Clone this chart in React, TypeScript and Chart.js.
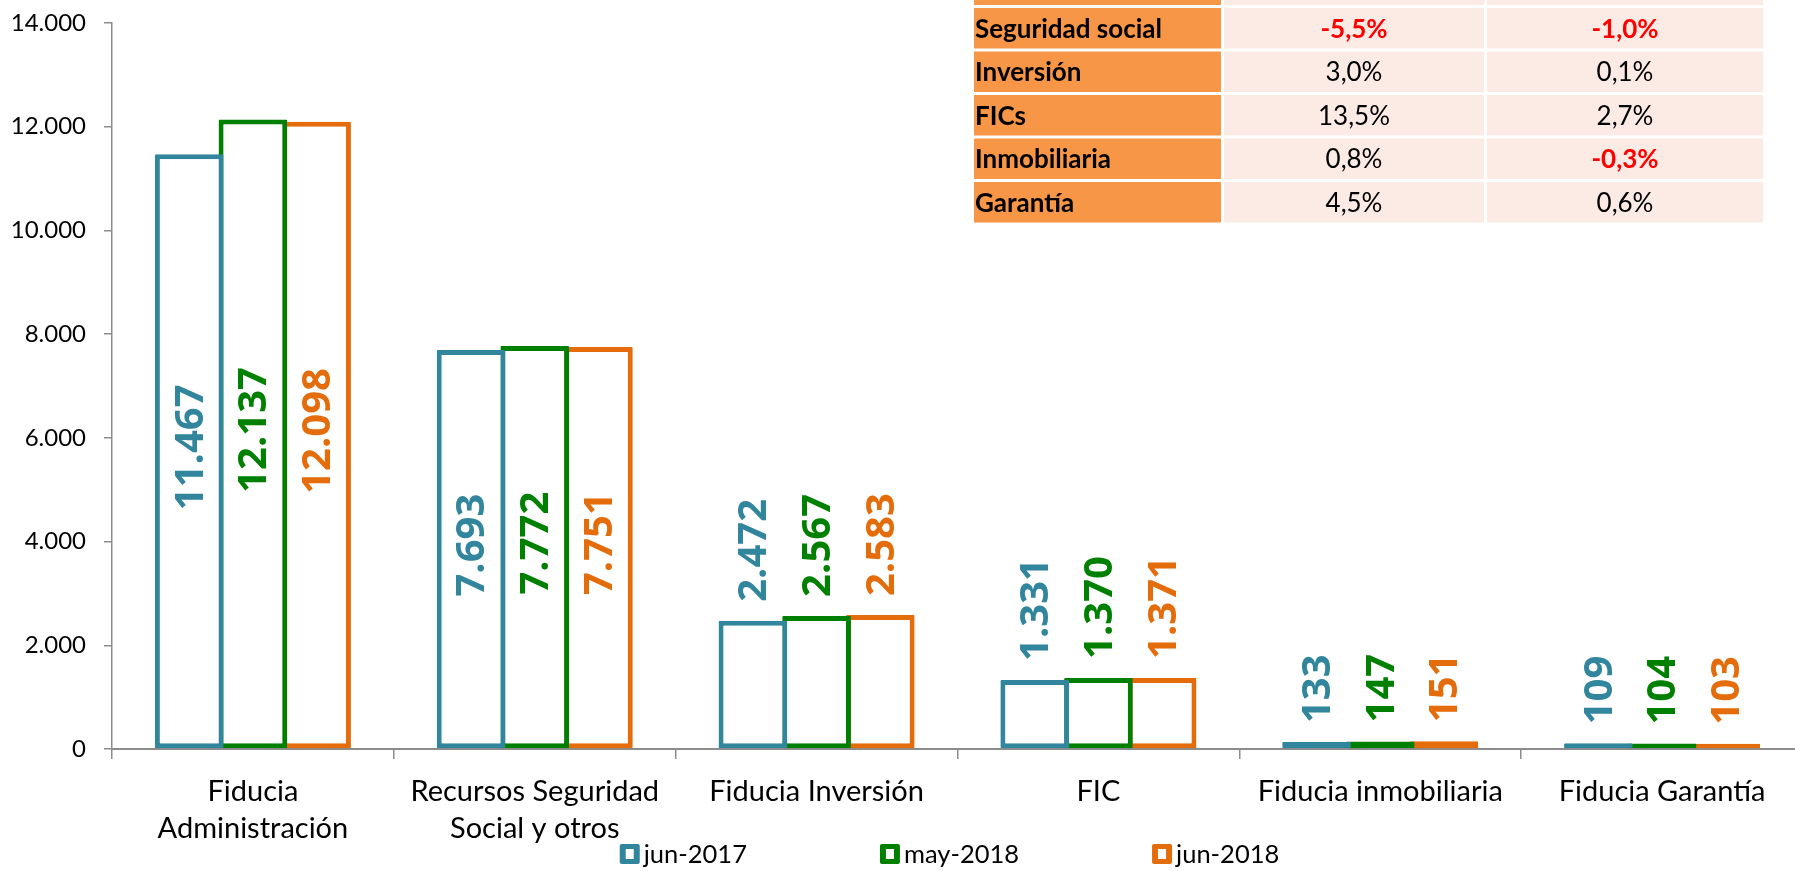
import React, { useEffect, useRef } from 'react';
import { Chart, registerables } from 'chart.js';

Chart.register(...registerables);

// ---- data ----
const categories: (string | string[])[] = [
  ['Fiducia', 'Administración'],
  ['Recursos Seguridad', 'Social y otros'],
  'Fiducia Inversión',
  'FIC',
  'Fiducia inmobiliaria',
  'Fiducia Garantía',
];
const seriesLabels = ['jun-2017', 'may-2018', 'jun-2018'];
const jun2017 = [11467, 7693, 2472, 1331, 133, 109];
const may2018 = [12137, 7772, 2567, 1370, 147, 104];
const jun2018 = [12098, 7751, 2583, 1371, 151, 103];
const yTickValues = [0, 2000, 4000, 6000, 8000, 10000, 12000, 14000];

const tableRows = ['Seguridad social', 'Inversión', 'FICs', 'Inmobiliaria', 'Garantía'];
const tableCol1 = ['-5,5%', '3,0%', '13,5%', '0,8%', '4,5%'];
const tableCol2 = ['-1,0%', '0,1%', '2,7%', '-0,3%', '0,6%'];

// ---- styles ----
const seriesColors = ['#31859C', '#008000', '#E46C0A'];
const labelInside = [true, true, false, false, false, false];
const AXIS_FONT = 'Lato, "Open Sans", sans-serif';
const LABEL_FONT = '"Open Sans", "Noto Sans", sans-serif';

const fmt = (n: number) => String(n).replace(/\B(?=(\d{3})+(?!\d))/g, '.');

const dataLabelPlugin = {
  id: 'dataLabels',
  afterDatasetsDraw(chart: any) {
    const ctx = chart.ctx;
    chart.data.datasets.forEach((ds: any, d: number) => {
      const meta = chart.getDatasetMeta(d);
      meta.data.forEach((bar: any, i: number) => {
        const { x, y, base } = bar.getProps(['x', 'y', 'base'], true);
        ctx.save();
        ctx.font = `bold 40px ${LABEL_FONT}`;
        ctx.fillStyle = seriesColors[d];
        ctx.textBaseline = 'middle';
        if (labelInside[i]) {
          ctx.translate(x + 2, (y + base) / 2 - 4);
          ctx.rotate(-Math.PI / 2);
          ctx.textAlign = 'center';
        } else {
          ctx.translate(x + 2, y - 19);
          ctx.rotate(-Math.PI / 2);
          ctx.textAlign = 'left';
        }
        ctx.fillText(fmt(ds.data[i]), 0, 0);
        ctx.restore();
      });
    });
  },
};

const legendPlugin = {
  id: 'customLegend',
  afterDraw(chart: any) {
    const ctx = chart.ctx;
    const area = chart.chartArea;
    ctx.save();
    ctx.font = `25.5px ${AXIS_FONT}`;
    const box = 20;
    const gapText = 4;
    const gapItem = 133;
    const widths = chart.data.datasets.map((ds: any) => box + gapText + ctx.measureText(ds.label).width);
    const total = widths.reduce((a: number, b: number) => a + b, 0) + gapItem * (widths.length - 1);
    let x = (area.left + area.right) / 2 - 8 - total / 2;
    const cy = 854;
    chart.data.datasets.forEach((ds: any, d: number) => {
      ctx.fillStyle = seriesColors[d];
      ctx.beginPath();
      ctx.roundRect(x, cy - box / 2, box, box, 2);
      ctx.fill();
      ctx.fillStyle = '#ffffff';
      ctx.fillRect(x + 6, cy - box / 2 + 5, box - 12, box - 10);
      ctx.fillStyle = '#000000';
      ctx.textAlign = 'left';
      ctx.textBaseline = 'middle';
      ctx.fillText(ds.label, x + box + gapText, cy + 1);
      x += widths[d] + gapItem;
    });
    ctx.restore();
  },
};

const tablePlugin = {
  id: 'table',
  afterDraw(chart: any) {
    const ctx = chart.ctx;
    const colX = [974, 1224, 1487];
    const colW = [247, 260, 276];
    const rowH = 43.5;
    const cellH = 40.5;
    const top0 = 8;
    ctx.save();
    ctx.fillStyle = '#ffffff';
    ctx.fillRect(colX[0], 0, colX[2] + colW[2] - colX[0], top0 + rowH * 4 + cellH);
    const drawRow = (top: number, h: number, label: string, v1: string, v2: string) => {
      ctx.fillStyle = '#F79646';
      ctx.fillRect(colX[0], top, colW[0], h);
      ctx.fillStyle = '#FCEBE5';
      ctx.fillRect(colX[1], top, colW[1], h);
      ctx.fillRect(colX[2], top, colW[2], h);
      const cy = top + h / 2 + 1;
      ctx.textBaseline = 'middle';
      if (label) {
        ctx.font = `bold 26px ${AXIS_FONT}`;
        ctx.fillStyle = '#000000';
        ctx.textAlign = 'left';
        ctx.fillText(label, colX[0] + 1, cy);
      }
      [v1, v2].forEach((v, k) => {
        if (!v) return;
        const neg = v.startsWith('-');
        ctx.font = `${neg ? 'bold ' : ''}26px ${AXIS_FONT}`;
        ctx.fillStyle = neg ? '#FF0000' : '#000000';
        ctx.textAlign = 'center';
        ctx.fillText(v, colX[k + 1] + colW[k + 1] / 2, cy);
      });
    };
    drawRow(-36, 41, '', '', '');
    tableRows.forEach((r, i) => drawRow(top0 + rowH * i, cellH, r, tableCol1[i], tableCol2[i]));
    ctx.restore();
  },
};

export default function App() {
  const canvasRef = useRef<HTMLCanvasElement | null>(null);

  useEffect(() => {
    if (!canvasRef.current) return;
    const series = [jun2017, may2018, jun2018];
    const chart = new Chart(canvasRef.current, {
      type: 'bar',
      data: {
        labels: categories,
        datasets: series.map((s, d) => ({
          label: seriesLabels[d],
          data: s,
          backgroundColor: '#ffffff',
          borderColor: seriesColors[d],
          borderWidth: 5,
          borderSkipped: false,
          borderRadius: 1,
          barPercentage: 1.078,
          categoryPercentage: 0.678,
        })),
      },
      options: {
        animation: false,
        responsive: false,
        devicePixelRatio: 1,
        layout: { padding: { top: 23, right: 2, left: 0, bottom: 0 } },
        plugins: {
          legend: { display: false },
          tooltip: { enabled: false },
        },
        scales: {
          x: {
            grid: {
              display: true,
              drawOnChartArea: false,
              drawTicks: true,
              tickLength: 10,
              offset: true,
              color: '#8C8C8C',
              lineWidth: 1.5,
            },
            border: { display: true, color: '#8C8C8C', width: 2 },
            ticks: {
              font: { family: AXIS_FONT, size: 29, lineHeight: 37 / 29 },
              color: '#000000',
              padding: 14,
              maxRotation: 0,
              minRotation: 0,
              autoSkip: false,
            },
            afterFit: (s: any) => {
              s.height = 122;
              s.paddingLeft = 0;
              s.paddingRight = 0;
            },
          },
          y: {
            min: 0,
            max: 14000,
            afterBuildTicks: (s: any) => {
              s.ticks = yTickValues.map((v) => ({ value: v }));
            },
            grid: {
              display: true,
              drawOnChartArea: false,
              drawTicks: true,
              tickLength: 8,
              color: '#8C8C8C',
              lineWidth: 1.5,
            },
            border: { display: true, color: '#8C8C8C', width: 1.5 },
            ticks: {
              font: { family: AXIS_FONT, size: 24 },
              color: '#000000',
              padding: 18,
              callback: (v: any) => fmt(Number(v)),
            },
            afterFit: (s: any) => {
              s.width = 112;
              s.paddingTop = 0;
              s.paddingBottom = 0;
            },
          },
        },
      },
      plugins: [dataLabelPlugin, legendPlugin, tablePlugin],
    });
    return () => chart.destroy();
  }, []);

  return (
    <div
      style={{
        position: 'fixed',
        left: 0,
        top: 0,
        width: 1795,
        height: 871,
        overflow: 'hidden',
        background: '#ffffff',
      }}
    >
      <canvas ref={canvasRef} width={1805} height={871} style={{ display: 'block', width: 1805, height: 871 }} />
    </div>
  );
}
